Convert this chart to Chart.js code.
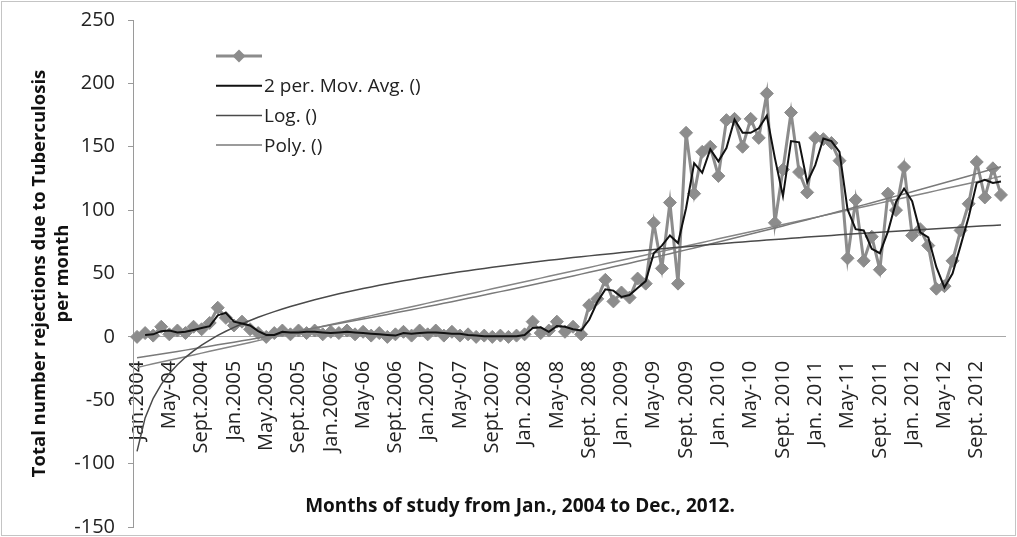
<!DOCTYPE html>
<html><head><meta charset="utf-8">
<script src="https://cdn.jsdelivr.net/npm/chart.js@4.4.1/dist/chart.umd.min.js"></script>
<style>html,body{margin:0;padding:0;background:#fff;} #wrap{width:1017px;height:537px;}</style>
</head><body><div id="wrap"><canvas id="c" width="1017" height="537"></canvas></div>
<script>
const tickLabels = ['Jan.2004','May-04','Sept.2004','Jan.2005','May.2005','Sept.2005','Jan.20067','May-06','Sept.2006','Jan.2007','May-07','Sept.2007','Jan. 2008','May-08','Sept. 2008','Jan. 2009','May-09','Sept. 2009','Jan. 2010','May-10','Sept. 2010','Jan. 2011','May-11','Sept. 2011','Jan. 2012','May-12','Sept. 2012'];
const rejections = [
  0, 3, 1, 8, 2, 5, 3, 8, 6, 11, 23, 15,
  9, 12, 6, 3, 0, 3, 5, 2, 5, 3, 5, 2,
  4, 3, 5, 2, 4, 1, 3, 0, 2, 4, 1, 5,
  2, 5, 1, 4, 1, 2, 0, 1, 0, 1, 0, 1,
  2, 12, 3, 5, 12, 4, 8, 2, 25, 30, 45, 28,
  35, 31, 46, 42, 90, 54, 106, 42, 161, 113, 146, 150,
  127, 171, 172, 150, 172, 157, 192, 90, 132, 177, 130, 114,
  157, 156, 153, 139, 62, 108, 60, 79, 53, 113, 100, 134,
  80, 85, 72, 38, 40, 60, 84, 105, 138, 110, 133, 112
];
const legendLabels = ['', '2 per. Mov. Avg. ()', 'Log. ()', 'Poly. ()'];
const yAxisTitle = ['Total number rejections due to Tuberculosis', 'per month'];
const xAxisTitle = 'Months of study from Jan., 2004 to Dec., 2012.';
const yMin = -150, yMax = 250, yStep = 50;

// categories: one per month, labelled every 4th month
const categories = rejections.map((_, i) => (i % 4 === 0 ? tickLabels[i / 4] : ''));

// derived series (as in the original spreadsheet): 2-period moving average and trendlines
const movAvg = rejections.map((v, i) => (i === 0 ? null : (rejections[i - 1] + v) / 2));
const xs = rejections.map((_, i) => i + 1);
function linFit(X, Y) {
  const n = X.length; let sx = 0, sy = 0, sxx = 0, sxy = 0;
  for (let i = 0; i < n; i++) { sx += X[i]; sy += Y[i]; sxx += X[i] * X[i]; sxy += X[i] * Y[i]; }
  const a = (n * sxy - sx * sy) / (n * sxx - sx * sx);
  return { a, b: (sy - a * sx) / n };
}
function polyFit2(X, Y) {
  const S = [0, 0, 0, 0, 0], T = [0, 0, 0];
  for (let i = 0; i < X.length; i++) {
    let p = 1;
    for (let k = 0; k < 5; k++) { S[k] += p; if (k < 3) T[k] += p * Y[i]; p *= X[i]; }
  }
  const M = [[S[0], S[1], S[2], T[0]], [S[1], S[2], S[3], T[1]], [S[2], S[3], S[4], T[2]]];
  for (let c = 0; c < 3; c++) {
    for (let r = c + 1; r < 3; r++) {
      const f = M[r][c] / M[c][c];
      for (let k = c; k < 4; k++) M[r][k] -= f * M[c][k];
    }
  }
  const s = [0, 0, 0];
  for (let r = 2; r >= 0; r--) {
    let v = M[r][3];
    for (let k = r + 1; k < 3; k++) v -= M[r][k] * s[k];
    s[r] = v / M[r][r];
  }
  return s;
}
const lf = linFit(xs.map(Math.log), rejections);
const logTrend = xs.map(x => lf.a * Math.log(x) + lf.b);
const pc = polyFit2(xs, rejections);
const polyTrend = xs.map(x => pc[0] + pc[1] * x + pc[2] * x * x);
const ll = linFit(xs, rejections);
const linTrend = xs.map(x => ll.a * x + ll.b);

const COL_SERIES = '#8c8c8c', COL_MA = '#111111', COL_LOG = '#4a4a4a', COL_POLY = '#7a7a7a', COL_LIN = '#858585';

const decor = {
  id: 'decor',
  afterDraw(chart) {
    const ctx = chart.ctx;
    ctx.save();
    ctx.strokeStyle = '#c4c4c4'; ctx.lineWidth = 1;
    ctx.strokeRect(1.5, 1.5, 1014, 534);
    ctx.fillStyle = '#111';
    ctx.font = 'bold 19px "Open Sans"';
    ctx.textAlign = 'center'; ctx.textBaseline = 'middle';
    ctx.fillText(xAxisTitle, 520, 507);
    // legend
    const cols = [COL_SERIES, COL_MA, COL_LOG, COL_POLY];
    const widths = [3, 2, 1.5, 1.5];
    ctx.font = '19px "Open Sans"';
    ctx.textAlign = 'left';
    for (let k = 0; k < legendLabels.length; k++) {
      const y = 56 + k * 29.7;
      ctx.strokeStyle = cols[k]; ctx.lineWidth = widths[k];
      ctx.beginPath(); ctx.moveTo(216, y); ctx.lineTo(262, y); ctx.stroke();
      if (k === 0) {
        ctx.fillStyle = COL_SERIES;
        ctx.beginPath(); ctx.moveTo(239, y - 6.5); ctx.lineTo(245.5, y); ctx.lineTo(239, y + 6.5); ctx.lineTo(232.5, y); ctx.closePath(); ctx.fill();
      }
      ctx.fillStyle = '#222';
      ctx.fillText(legendLabels[k], 264, y + 1);
    }
    ctx.restore();
  }
};

new Chart(document.getElementById('c'), {
  type: 'line',
  data: {
    labels: categories,
    datasets: [
      { label: legendLabels[1], data: movAvg, borderColor: COL_MA, borderWidth: 2, pointRadius: 0, tension: 0 },
      { label: legendLabels[2], data: logTrend, borderColor: COL_LOG, borderWidth: 1.5, pointRadius: 0, tension: 0 },
      { label: legendLabels[3], data: polyTrend, borderColor: COL_POLY, borderWidth: 1.5, pointRadius: 0, tension: 0 },
      { label: 'Linear ()', data: linTrend, borderColor: COL_LIN, borderWidth: 1.5, pointRadius: 0, tension: 0 },
      { label: legendLabels[0], data: rejections, borderColor: COL_SERIES, borderWidth: 3, tension: 0,
        pointStyle: 'rectRot', pointRadius: 6.5, pointBackgroundColor: COL_SERIES, pointBorderColor: COL_SERIES, pointBorderWidth: 1 }
    ]
  },
  options: {
    responsive: false, animation: false, devicePixelRatio: 1,
    layout: { padding: { top: 20, right: 12, bottom: 10, left: 0 } },
    plugins: { legend: { display: false }, tooltip: { enabled: false } },
    scales: {
      x: {
        type: 'category', offset: true, position: { y: 0 },
        grid: { display: false },
        border: { display: true, color: '#a8a8a8', width: 1 },
        ticks: { autoSkip: false, minRotation: 90, maxRotation: 90, padding: 16, color: '#222', font: { family: 'Open Sans', size: 20 } },
        afterFit(s) { s.height = 0; s.paddingLeft = 0; s.paddingRight = 0; s.paddingTop = 0; s.paddingBottom = 0; }
      },
      y: {
        min: yMin, max: yMax,
        ticks: { stepSize: yStep, padding: 13, color: '#222', font: { family: 'Open Sans', size: 20 } },
        grid: { drawOnChartArea: false, drawTicks: true, tickLength: 5, color: '#9a9a9a' },
        border: { display: true, color: '#9a9a9a', width: 1 },
        title: { display: true, text: yAxisTitle, color: '#111', font: { family: 'Open Sans', size: 18.5, weight: 'bold', lineHeight: 1.2 }, padding: { top: 29, bottom: 0 } },
        afterFit(s) { s.width = 133; s.paddingTop = 0; s.paddingBottom = 0; }
      }
    }
  },
  plugins: [decor]
});
</script>
</body></html>
